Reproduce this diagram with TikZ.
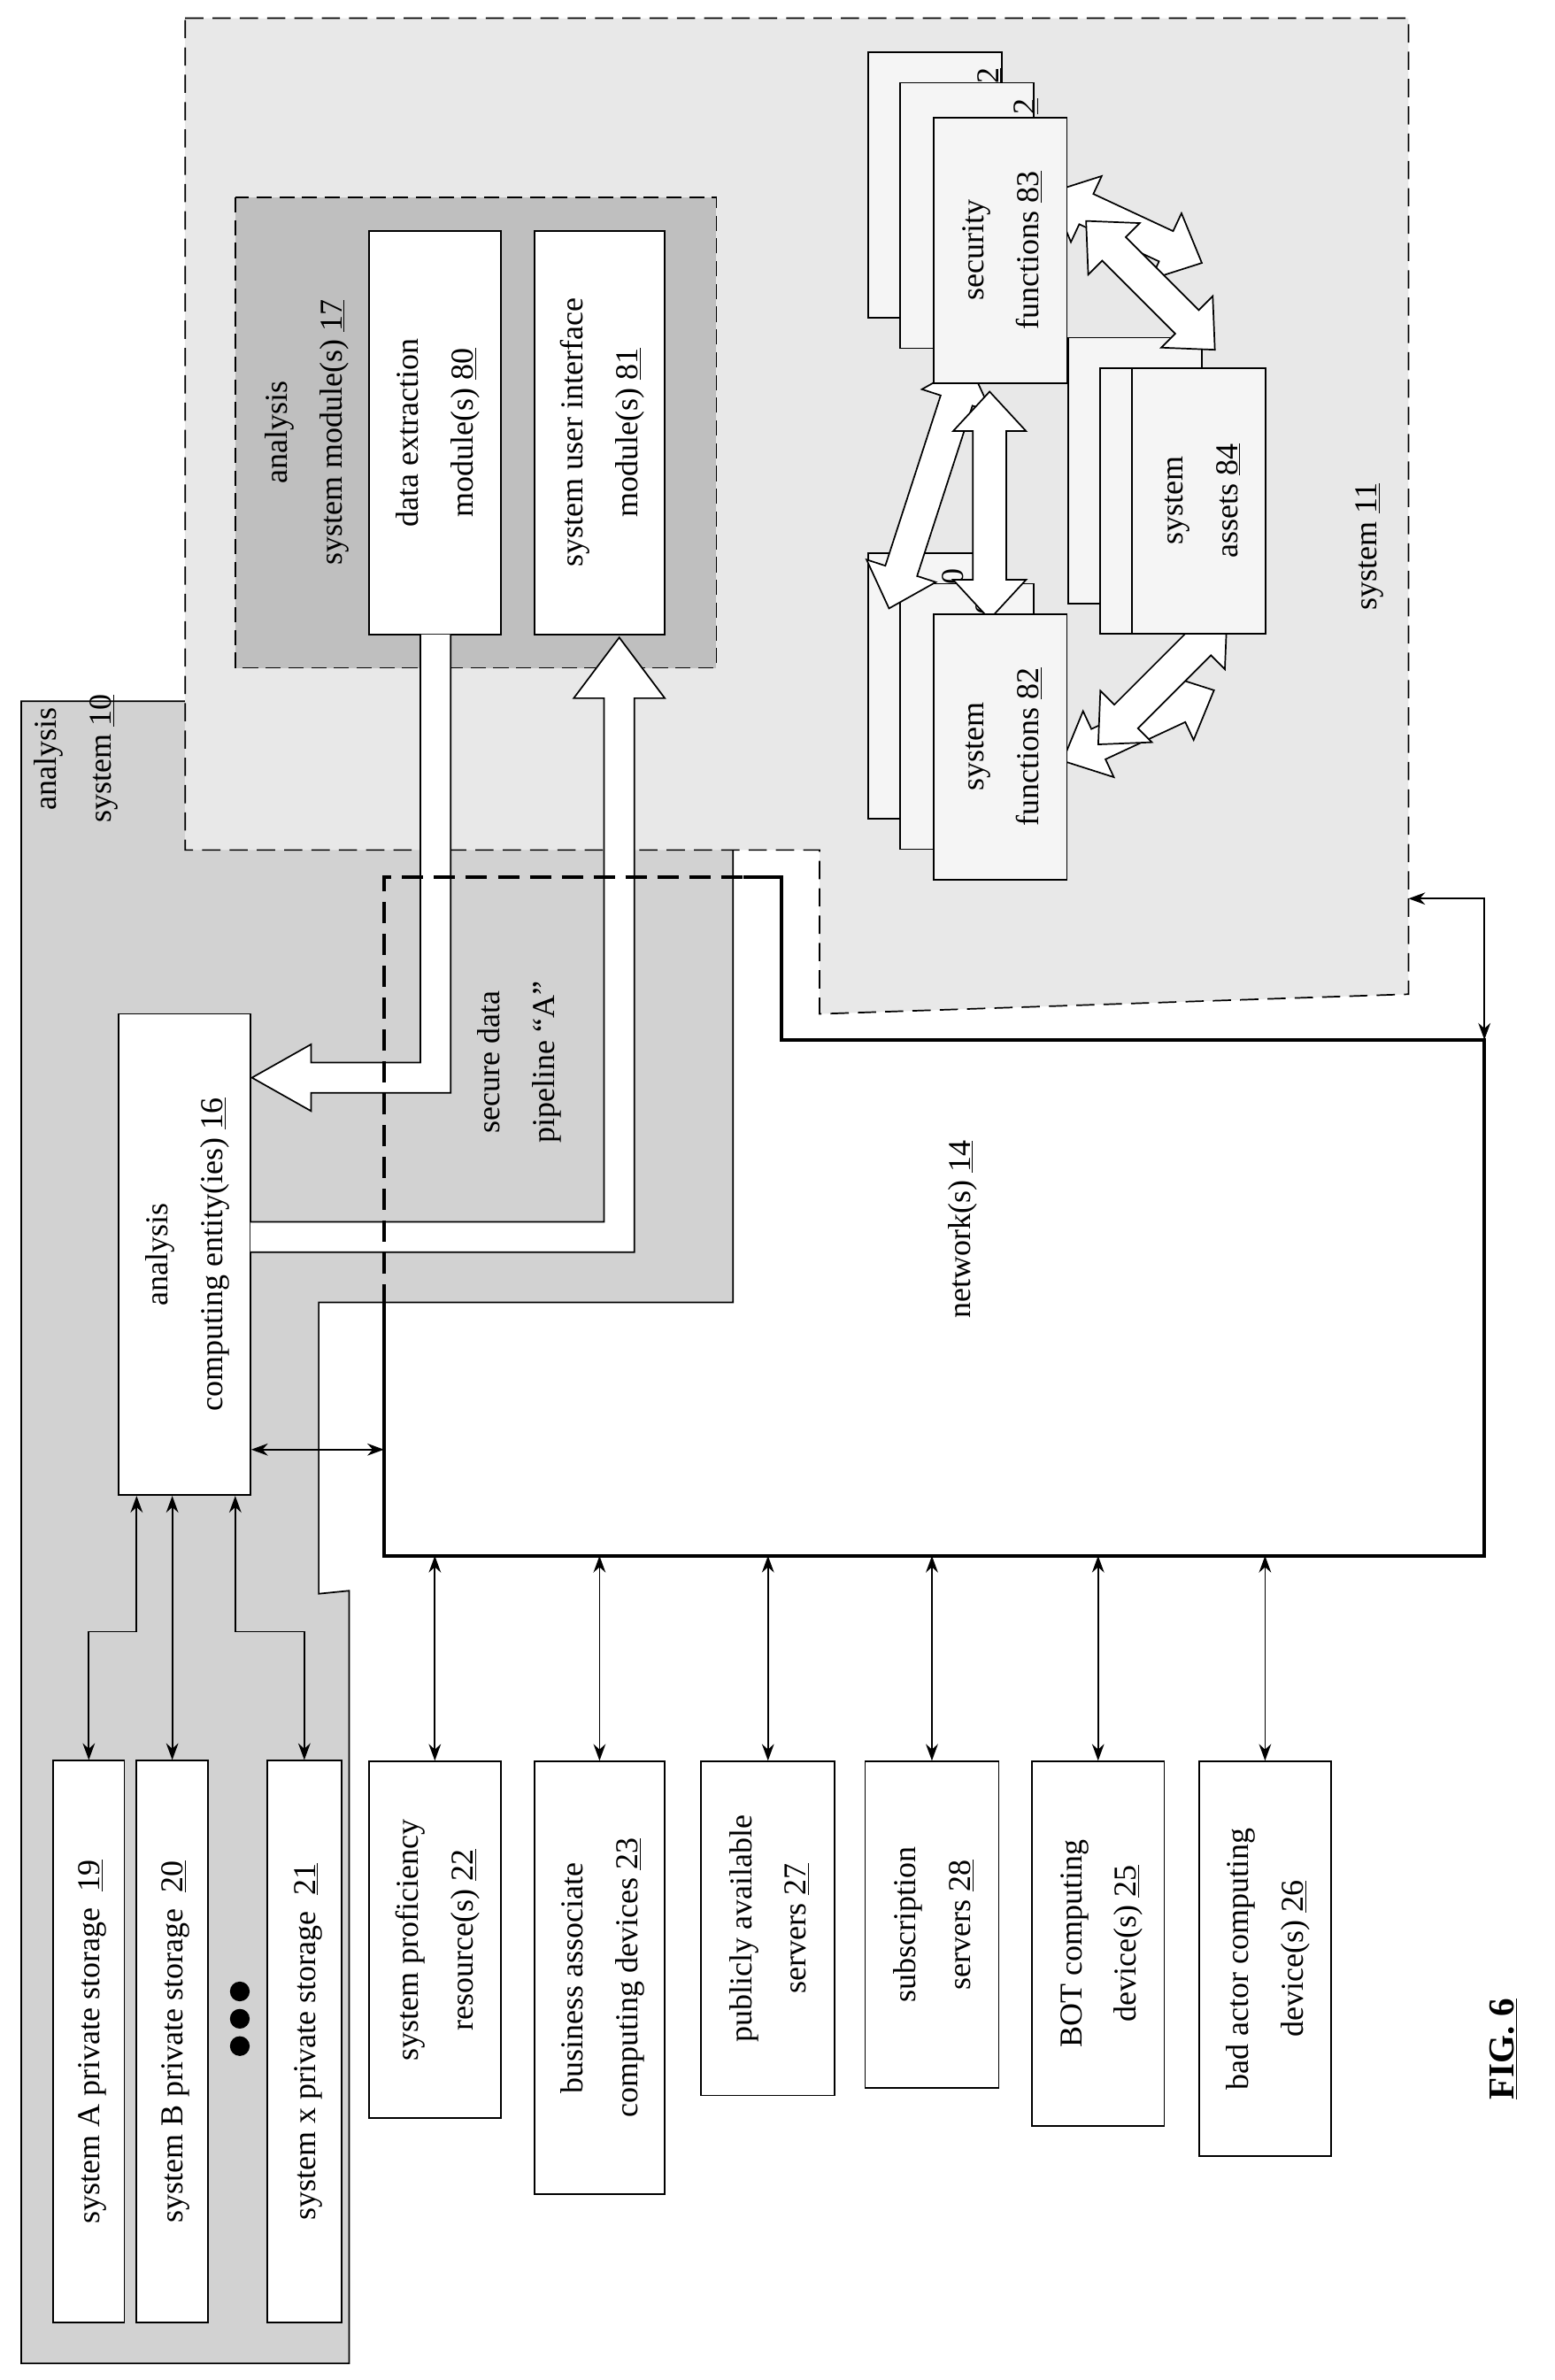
\documentclass[tikz,border=0pt]{standalone}
\usepackage{fontspec}
\setmainfont{Liberation Serif}
\usetikzlibrary{arrows.meta}
\newcommand\rt[1]{\rotatebox{90}{\begin{tabular}{@{}c@{}}#1\end{tabular}}}
\newcommand\barrw[4]{\begin{scope}[shift={(#1,#2)},rotate=#3]
 \draw[line width=1pt,fill=white] (-#4/2,0) -- (-#4/2+26,24) -- (-#4/2+26,11) -- (#4/2-26,11) -- (#4/2-26,24) -- (#4/2,0) -- (#4/2-26,-24) -- (#4/2-26,-11) -- (-#4/2+26,-11) -- (-#4/2+26,-24) -- cycle;
 \end{scope}}
\begin{document}
\begin{tikzpicture}[x=1pt,y=-1pt,
  every node/.style={font=\fontsize{21}{36}\selectfont},
  box/.style={draw,line width=1pt,fill=white,inner sep=0pt},
  sbox/.style={draw,line width=1pt,fill=gray!8,inner sep=0pt,minimum width=88pt,minimum height=175pt},
  arr/.style={line width=1pt,{Stealth[length=11pt,width=8pt]}-{Stealth[length=11pt,width=8pt]}}]
\useasboundingbox (0,0) rectangle (1024,1568);
% network fill
\fill[white] (253,578) -- (515,578) -- (515,685) -- (978,685) -- (978,1025) -- (253,1025) -- cycle;
% analysis system 10
\draw[line width=1pt,fill=gray!35] (14,462) -- (145,462) -- (145,122) -- (483,122) -- (483,858) -- (210,858) -- (210,1050) -- (230,1048) -- (230,1557) -- (14,1557) -- cycle;
% system 11
\draw[line width=1pt,dash pattern=on 12pt off 6pt,fill=gray!18] (122,12) -- (928,12) -- (928,655) -- (540,668) -- (540,560) -- (122,560) -- cycle;
% module 17
\draw[line width=1pt,dash pattern=on 10pt off 5pt,fill=gray!50] (155,130) rectangle (472,440);
\node at (200,285) {\rt{analysis\\system module(s) \underline{17}}};
\node[box,minimum width=87pt,minimum height=266pt] (de) at (286.5,285) {\rt{data extraction\\module(s) \underline{80}}};
\node[box,minimum width=86pt,minimum height=266pt] (ui) at (395,285) {\rt{system user interface\\module(s) \underline{81}}};
\node at (48,500) {\rt{analysis\\system \underline{10}}};
\node at (900,360) {\rt{system \underline{11}}};
% computing entity
\node[box,minimum width=87pt,minimum height=317pt] (ce) at (121.5,826.5) {\rt{analysis\\computing entity(ies) \underline{16}}};
% pipelines
\draw[line width=1pt,fill=white] (277,418) -- (277,700) -- (205,700) -- (205,688) -- (166,710) -- (205,732) -- (205,720) -- (297,720) -- (297,418);
\draw[line width=1pt,fill=white] (165,805) -- (398,805) -- (398,460) -- (378,460) -- (408,420) -- (438,460) -- (418,460) -- (418,825) -- (165,825);
\node at (340,700) {\rt{secure data\\pipeline ``A''}};
% network outline
\draw[line width=2.5pt,dash pattern=on 14pt off 7pt] (253,860) -- (253,578) -- (490,578);
\draw[line width=2.5pt] (490,578) -- (515,578) -- (515,685) -- (978,685) -- (978,1025) -- (253,1025) -- (253,860);
\node at (632,810) {\rt{network(s) \underline{14}}};
\coordinate (nl) at (253,955);
\coordinate (s11) at (928,592);
\coordinate (nr) at (978,685);
\draw[arr] (ce.east |- nl) -- (nl);
\draw[arr] (s11) -| (nr);
% storage
\node[box,minimum width=47pt,minimum height=370pt] (sA) at (58.5,1345) {\rt{system A private storage \ \underline{19}}};
\node[box,minimum width=47pt,minimum height=370pt] (sB) at (113.5,1345) {\rt{system B private storage \ \underline{20}}};
\node[box,minimum width=49pt,minimum height=370pt] (sX) at (200.5,1345) {\rt{system x private storage \ \underline{21}}};
\foreach \yy in {1312,1330,1348} \fill (158,\yy) circle (6.5pt);
\draw[arr] (sA.north) |- (90,1075) -- (90,1075 |- ce.south);
\draw[arr] (sB.north) -- (sB.north |- ce.south);
\draw[arr] (sX.north) |- (155,1075) -- (155,1075 |- ce.south);
% lower boxes
\node[box,minimum width=87pt,minimum height=235pt,anchor=north] (b22) at (286.5,1160) {\rt{system proficiency\\resource(s) \underline{22}}};
\node[box,minimum width=86pt,minimum height=285pt,anchor=north] (b23) at (395,1160) {\rt{business associate\\computing devices \underline{23}}};
\node[box,minimum width=88pt,minimum height=220pt,anchor=north] (b27) at (506,1160) {\rt{publicly available\\servers \underline{27}}};
\node[box,minimum width=88pt,minimum height=215pt,anchor=north] (b28) at (614,1160) {\rt{subscription\\servers \underline{28}}};
\node[box,minimum width=87pt,minimum height=240pt,anchor=north] (b25) at (723.5,1160) {\rt{BOT computing\\device(s) \underline{25}}};
\node[box,minimum width=87pt,minimum height=260pt,anchor=north] (b26) at (833.5,1160) {\rt{bad actor computing\\device(s) \underline{26}}};
\foreach \b in {b22,b23,b27,b28,b25,b26} \draw[arr] (\b.north) -- (\b.north |- 0,1025);
\node[font=\fontsize{24}{28}\selectfont] at (992,1350) {\rt{\textbf{\underline{FIG. 6}}}};
% right group: stacked boxes
\node[sbox] at (616,122) {}; \node at (652,50) {\rotatebox{90}{\underline{2}}};
\node[sbox] at (637,142) {}; \node at (676,70) {\rotatebox{90}{\underline{2}}};
\node[sbox] at (616,452) {}; \node at (628,380) {\rotatebox{90}{0}};
\node[sbox] at (637,472) {}; \node at (650,400) {\rotatebox{90}{0}};
\node[sbox] at (748,310) {};
\node[sbox] at (769,330) {};
\barrw{612}{320}{72}{170}
\barrw{652}{333}{90}{150}
\barrw{742}{150}{-25}{110}
\barrw{758}{188}{-45}{120}
\barrw{750}{478}{25}{110}
\barrw{766}{448}{45}{120}
\node[sbox] (sf83) at (659,165) {\rt{security\\functions \underline{83}}};
\node[sbox] (sf82) at (659,492) {\rt{system\\functions \underline{82}}};
\node[sbox] (sa84) at (790,330) {\rt{system\\assets \underline{84}}};
\end{tikzpicture}
\end{document}
